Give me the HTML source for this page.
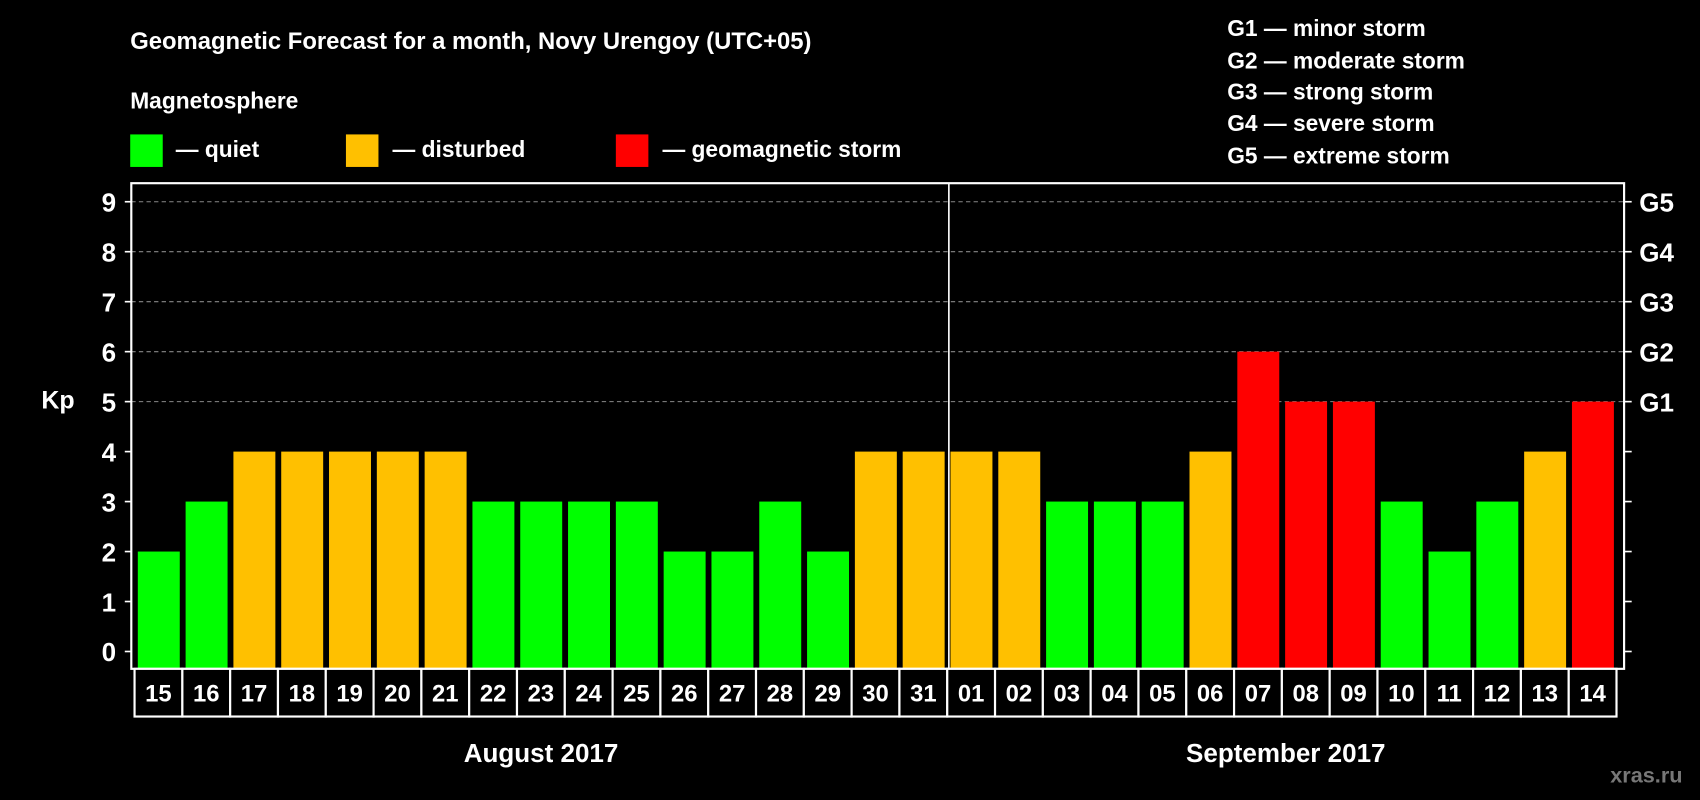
<!DOCTYPE html>
<html><head><meta charset="utf-8"><style>
html,body{margin:0;padding:0;background:#000;}
svg{display:block;font-family:"Liberation Sans",sans-serif;font-weight:bold;}
</style></head><body>
<svg width="1700" height="800" viewBox="0 0 1568 738" xmlns="http://www.w3.org/2000/svg">
<rect width="1568" height="738" fill="#000"/>
<text x="120" y="45" fill="#fff" font-size="22">Geomagnetic Forecast for a month, Novy Urengoy (UTC+05)</text>
<text x="120" y="100" fill="#fff" font-size="21">Magnetosphere</text>
<g>
<rect x="120" y="124" width="30" height="30" fill="#00ff00"/>
<text x="162" y="145" fill="#fff" font-size="21">— quiet</text>
<rect x="319" y="124" width="30" height="30" fill="#ffc000"/>
<text x="362" y="145" fill="#fff" font-size="21">— disturbed</text>
<rect x="568" y="124" width="30" height="30" fill="#ff0000"/>
<text x="611" y="145" fill="#fff" font-size="21">— geomagnetic storm</text>
</g>
<g fill="#fff" font-size="21">
<text x="1132" y="33">G1 — minor storm</text>
<text x="1132" y="63">G2 — moderate storm</text>
<text x="1132" y="92">G3 — strong storm</text>
<text x="1132" y="121">G4 — severe storm</text>
<text x="1132" y="151">G5 — extreme storm</text>
</g>
<g id="grid"></g>
<g id="bars"></g>
<g id="axes"></g>
<text x="38" y="377" fill="#fff" font-size="23">Kp</text>
<text x="499" y="703" fill="#fff" font-size="24" text-anchor="middle">August 2017</text>
<text x="1186" y="703" fill="#fff" font-size="24" text-anchor="middle">September 2017</text>
<text x="1552" y="722" fill="#777" font-size="20" text-anchor="end">xras.ru</text>
</svg>
<script>
const days = ["15","16","17","18","19","20","21","22","23","24","25","26","27","28","29","30","31","01","02","03","04","05","06","07","08","09","10","11","12","13","14"];
const kpValues = [2,3,4,4,4,4,4,3,3,3,3,2,2,3,2,4,4,4,4,3,3,3,4,6,5,5,3,2,3,4,5];
const yTicks = [0,1,2,3,4,5,6,7,8,9];
const gLabels = ["G1","G2","G3","G4","G5"];
const gLevels = [5,6,7,8,9];

const NS = "http://www.w3.org/2000/svg";
const X0 = 124, PITCH = 44.1, Y0 = 601, UNIT = 46.1;
const xScale = i => X0 + i * PITCH;
const yScale = v => Y0 - v * UNIT;
function mk(tag, attrs, parent) {
  const e = document.createElementNS(NS, tag);
  for (const k in attrs) e.setAttribute(k, attrs[k]);
  parent.appendChild(e);
  return e;
}
const grid = document.getElementById('grid');
const bars = document.getElementById('bars');
const axes = document.getElementById('axes');
const right = xScale(days.length) + 7;
const colorFor = v => v >= 5 ? "#ff0000" : (v >= 4 ? "#ffc000" : "#00ff00");

yTicks.forEach(t => {
  const y = yScale(t);
  if (t >= 5) {
    const g = mk('line', {x1: 121, x2: right, y1: y, y2: y, stroke: "#888", "stroke-width": 1, "stroke-dasharray": "4,3"}, grid);
    
    
  }
  const tk = mk('line', {x1: 115, x2: 121, y1: y, y2: y, stroke: "#fff", "stroke-width": 1.5}, axes);
  
  
  const tr = mk('line', {x1: right, x2: right + 7, y1: y, y2: y, stroke: "#fff", "stroke-width": 1.5}, axes);
  
  
  const lb = mk('text', {x: 107, y: y + 9, fill: "#fff", "font-size": 24, "text-anchor": "end"}, axes);
  lb.textContent = t;
  
  
});
gLabels.forEach((g, i) => {
  const t = mk('text', {x: right + 14, y: yScale(gLevels[i]) + 9, fill: "#fff", "font-size": 24}, axes);
  t.textContent = g;
  
  
});
kpValues.forEach((v, i) => {
  const b = mk('rect', {x: xScale(i) + 3, y: yScale(v), width: 38.7, height: v * UNIT + 16, fill: colorFor(v)}, bars);
  
  
});
// frame
const fr = mk('rect', {x: 121, y: 169, width: right - 121, height: 448, fill: "none", stroke: "#fff", "stroke-width": 2}, axes);


const dv = mk('line', {x1: xScale(17) + 1.5, x2: xScale(17) + 1.5, y1: 169, y2: 617, stroke: "#fff", "stroke-width": 1.5}, axes);


// date cells
days.forEach((d, i) => {
  const c = mk('rect', {x: xScale(i), y: 617, width: PITCH, height: 44, fill: "#000", stroke: "#fff", "stroke-width": 2}, axes);
  
  
  const t = mk('text', {x: xScale(i) + PITCH / 2, y: 647, fill: "#fff", "font-size": 22, "text-anchor": "middle"}, axes);
  t.textContent = d;
  
  
});
</script>
</body></html>
